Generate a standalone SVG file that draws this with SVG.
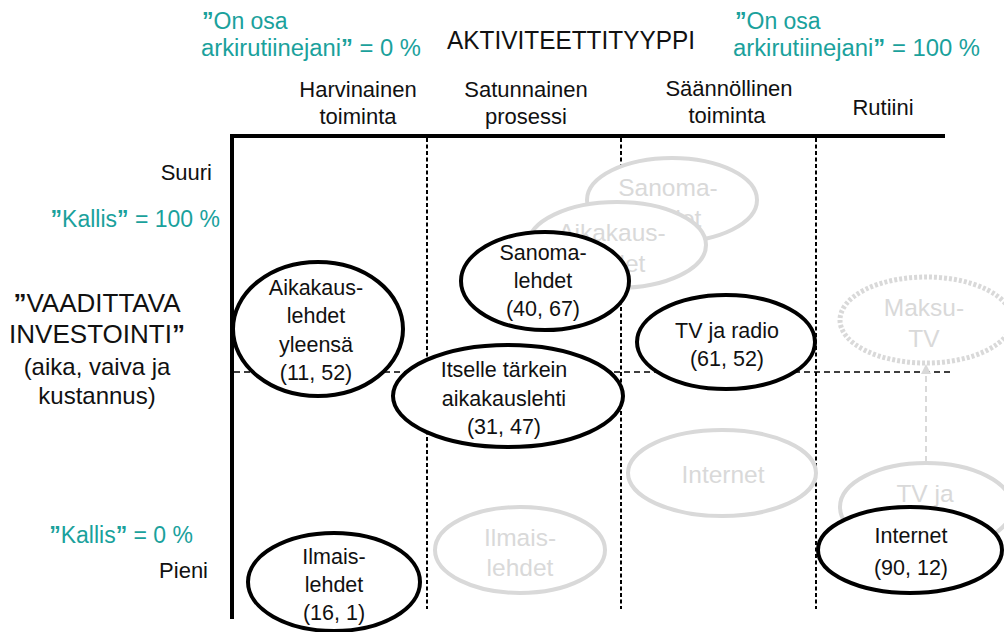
<svg xmlns="http://www.w3.org/2000/svg" width="1004" height="632" viewBox="0 0 1004 632">
  <defs>
    <style>
      text { font-family: "Liberation Sans", Arial, sans-serif; fill: #111; }
      .hdr { font-size: 22px; text-anchor: middle; }
      .title { font-size: 25px; }
      .teal { font-size: 23px; fill: #1AA19C; }
      .teal tspan.q { font-weight: bold; }
      .lbl { font-size: 22px; text-anchor: end; }
      .ylab { font-size: 26px; text-anchor: middle; }
      .ylab2 { font-size: 24px; text-anchor: middle; }
      .nt { font-size: 21.5px; text-anchor: middle; }
      .gt { font-size: 24.5px; text-anchor: middle; fill: #d9d9d9; }
      .axis { stroke: #000; stroke-width: 4; fill: none; }
      .vgrid { stroke: #000; stroke-width: 2; stroke-dasharray: 4 2.5; fill: none; }
      .hgrid { stroke: #000; stroke-width: 1.5; stroke-dasharray: 6 4; fill: none; }
      .node { fill: #fff; stroke: #000; stroke-width: 4; }
      .ghost { fill: #fff; stroke: #d9d9d9; stroke-width: 4; }
      .ghost-dot { fill: #fff; stroke: #d9d9d9; stroke-width: 5; stroke-dasharray: 3 2; }
      .link { stroke: #d9d9d9; stroke-width: 2; stroke-dasharray: 6 4; fill: none; }
    </style>
    <marker id="arrowGrey" viewBox="0 0 10 10" refX="5" refY="5" markerWidth="5" markerHeight="5" orient="auto">
      <path d="M0,0 L10,5 L0,10 z" fill="#d9d9d9"/>
    </marker>
  </defs>

  <rect width="1004" height="632" fill="#fff"/>

  <!-- column headings and axis title -->
  <g id="headings">
    <text class="teal" x="202" y="29"><tspan class="q">”</tspan>On osa</text>
    <text class="teal" x="201" y="56" textLength="220" lengthAdjust="spacingAndGlyphs">arkirutiinejani<tspan class="q">”</tspan> = 0 %</text>
    <text class="title" x="447" y="49" textLength="248" lengthAdjust="spacingAndGlyphs">AKTIVITEETTITYYPPI</text>
    <text class="teal" x="735" y="29"><tspan class="q">”</tspan>On osa</text>
    <text class="teal" x="733" y="56" textLength="247" lengthAdjust="spacingAndGlyphs">arkirutiinejani<tspan class="q">”</tspan> = 100 %</text>

    <text class="hdr" x="358" y="97">Harvinainen</text>
    <text class="hdr" x="358" y="124">toiminta</text>
    <text class="hdr" x="526" y="97">Satunnainen</text>
    <text class="hdr" x="526" y="124">prosessi</text>
    <text class="hdr" x="729" y="96">Säännöllinen</text>
    <text class="hdr" x="727" y="123">toiminta</text>
    <text class="hdr" x="883" y="115">Rutiini</text>
  </g>

  <!-- vertical axis labels -->
  <g id="yaxis-labels">
    <text class="lbl" x="212" y="180">Suuri</text>
    <text class="teal" x="220" y="227" text-anchor="end"><tspan class="q">”</tspan>Kallis<tspan class="q">”</tspan> = 100 %</text>
    <text class="ylab" x="97" y="312"><tspan font-weight="bold">”</tspan>VAADITTAVA</text>
    <text class="ylab" x="97" y="343">INVESTOINTI<tspan font-weight="bold">”</tspan></text>
    <text class="ylab2" x="97" y="375">(aika, vaiva ja</text>
    <text class="ylab2" x="97" y="404">kustannus)</text>
    <text class="teal" x="193" y="543" text-anchor="end"><tspan class="q">”</tspan>Kallis<tspan class="q">”</tspan> = 0 %</text>
    <text class="lbl" x="208" y="578">Pieni</text>
  </g>

  <!-- axes and grid -->
  <g id="grid">
    <line class="vgrid" x1="427" y1="138" x2="427" y2="609"/>
    <line class="vgrid" x1="621" y1="138" x2="621" y2="609"/>
    <line class="vgrid" x1="816" y1="138" x2="816" y2="609"/>
    <line class="hgrid" x1="234" y1="372" x2="950" y2="372"/>
    <line class="axis" x1="232" y1="134" x2="232" y2="619"/>
    <line class="axis" x1="230" y1="136" x2="945" y2="136"/>
  </g>

  <!-- faded reference positions -->
  <g id="ghost-sanomalehdet">
    <ellipse class="ghost" cx="672" cy="200" rx="85" ry="42"/>
    <text class="gt" x="668" y="196" font-size="22.5">Sanoma-</text>
    <text class="gt" x="668" y="227" font-size="22.5">lehdet</text>
  </g>
  <g id="ghost-aikakauslehdet">
    <ellipse class="ghost" cx="617" cy="245" rx="89" ry="43"/>
    <text class="gt" x="612" y="241">Aikakaus-</text>
    <text class="gt" x="612" y="272">lehdet</text>
  </g>
  <g id="ghost-internet">
    <ellipse class="ghost" cx="722" cy="473" rx="94" ry="43"/>
    <text class="gt" x="723" y="483" font-size="25">Internet</text>
  </g>
  <g id="ghost-ilmaislehdet">
    <ellipse class="ghost" cx="520" cy="550" rx="85" ry="43"/>
    <text class="gt" x="520" y="546">Ilmais-</text>
    <text class="gt" x="520" y="576">lehdet</text>
  </g>
  <g id="ghost-tv">
    <ellipse class="ghost" cx="926" cy="507" rx="86" ry="44"/>
    <text class="gt" x="925" y="502" font-size="23">TV ja</text>
  </g>
  <g id="ghost-maksutv">
    <ellipse class="ghost-dot" cx="926" cy="320" rx="86" ry="43"/>
    <text class="gt" x="924" y="316" font-size="25">Maksu-</text>
    <text class="gt" x="924" y="347" font-size="25">TV</text>
  </g>

  <!-- connectors -->
  <g id="connectors">
    <line class="link" x1="926" y1="462" x2="926" y2="369" marker-end="url(#arrowGrey)"/>
  </g>

  <!-- measured positions -->
  <g id="node-aikakauslehdet-yleensa">
    <ellipse class="node" cx="318" cy="329" rx="85" ry="67"/>
    <text class="nt" x="316" y="295" font-size="22.5">Aikakaus-</text>
    <text class="nt" x="316" y="323" font-size="22.5">lehdet</text>
    <text class="nt" x="316" y="352" font-size="22.5">yleensä</text>
    <text class="nt" x="316" y="380" font-size="22.5">(11, 52)</text>
  </g>
  <g id="node-sanomalehdet">
    <ellipse class="node" cx="545" cy="281" rx="84" ry="49"/>
    <text class="nt" x="543" y="260" font-size="21">Sanoma-</text>
    <text class="nt" x="543" y="288" font-size="21">lehdet</text>
    <text class="nt" x="543" y="316" font-size="21">(40, 67)</text>
  </g>
  <g id="node-itselle-tarkein">
    <ellipse class="node" cx="508" cy="396" rx="115" ry="51"/>
    <text class="nt" x="504" y="377">Itselle tärkein</text>
    <text class="nt" x="504" y="406">aikakauslehti</text>
    <text class="nt" x="504" y="434">(31, 47)</text>
  </g>
  <g id="node-tv-radio">
    <ellipse class="node" cx="726" cy="342" rx="89" ry="47"/>
    <text class="nt" x="727" y="338">TV ja radio</text>
    <text class="nt" x="727" y="366">(61, 52)</text>
  </g>
  <g id="node-internet">
    <ellipse class="node" cx="910" cy="550" rx="92" ry="43"/>
    <text class="nt" x="911" y="543" font-size="22.5">Internet</text>
    <text class="nt" x="911" y="575" font-size="22.5">(90, 12)</text>
  </g>
  <g id="node-ilmaislehdet">
    <ellipse class="node" cx="334" cy="582" rx="86" ry="49"/>
    <text class="nt" x="334" y="564" font-size="22">Ilmais-</text>
    <text class="nt" x="334" y="592" font-size="22">lehdet</text>
    <text class="nt" x="334" y="620" font-size="22">(16, 1)</text>
  </g>
</svg>
